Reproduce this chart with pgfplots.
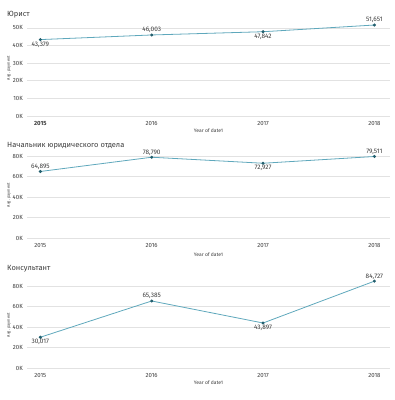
\documentclass[border=0pt]{standalone}
\usepackage{pgfplots}
\pgfplotsset{compat=1.18}
\usepackage{fontspec}
\setmainfont{Fira Sans}
\definecolor{linec}{RGB}{95,168,188}
\definecolor{markc}{RGB}{35,95,110}
\definecolor{gridc}{RGB}{226,226,226}
\definecolor{txt}{RGB}{60,60,60}
\pgfplotsset{
 panel/.style={scale only axis, width=363pt, anchor=south west,
  xmin=2014.88, xmax=2018.14, ymin=0,
  xtick={2015,2016,2017,2018},
  scaled y ticks=false,
  axis line style={draw=none}, major tick length=0pt,
  ymajorgrids, grid style={gridc, line width=0.6pt},
  tick label style={font=\fontsize{6}{7}\selectfont, text=txt},
  yticklabel style={inner sep=0pt, xshift=-4pt},
  xticklabel style={inner sep=0pt, yshift=-5pt},
  /pgf/number format/assume math mode=true,
  clip=false,
 },
 ser/.style={linec, line width=0.8pt, mark=*, mark size=1.1pt, mark options={fill=markc, draw=markc}},
 lab/.style={draw=none, mark=none,
  nodes near coords={\pgfmathprintnumber[fixed,precision=0,1000 sep={,}]{\pgfplotspointmeta}},
  point meta=y,
  every node near coord/.append style={font=\fontsize{6.5}{7}\selectfont, text=txt, anchor=#1, inner sep=1.8pt}},
}
\tikzset{
 ylab/.style={font=\fontsize{4}{5}\selectfont, text=txt, xshift=-18pt, rotate=90},
 xlab/.style={font=\fontsize{5}{6}\selectfont, text=txt},
}
\begin{document}
\begin{tikzpicture}
\useasboundingbox (0,0) rectangle (395pt,400pt);
% Panel 1
\node[anchor=base west, font=\fontsize{7.5}{8}\selectfont, text=txt, inner sep=0pt] at (7pt,383pt) {Юрист};
\begin{axis}[panel, at={(27pt,284pt)}, height=96pt, ymax=54500,
  ytick={0,10000,20000,30000,40000,50000}, yticklabels={0K,10K,20K,30K,40K,50K},
  xticklabels={\textbf{2015},2016,2017,2018}]
\addplot[ser] coordinates {(2015,43379) (2016,46003) (2017,47842) (2018,51651)};
\addplot[lab=north] coordinates {(2015,43379) (2017,47842)};
\addplot[lab=south] coordinates {(2016,46003) (2018,51651)};
\node[xlab] at (rel axis cs:0.5,0) [yshift=-15pt] {Year of date1};
\node[ylab] at (rel axis cs:0,0.5) {Avg. payment};
\end{axis}
% Panel 2
\node[anchor=base west, font=\fontsize{7.5}{8}\selectfont, text=txt, inner sep=0pt] at (7pt,252pt) {Начальник юридического отдела};
\begin{axis}[panel, at={(27pt,162pt)}, height=86pt, ymax=83900,
  ytick={0,20000,40000,60000,80000}, yticklabels={0K,20K,40K,60K,80K},
  xticklabels={2015,2016,2017,2018}]
\addplot[ser] coordinates {(2015,64895) (2016,78790) (2017,72927) (2018,79511)};
\addplot[lab=north] coordinates {(2017,72927)};
\addplot[lab=south] coordinates {(2015,64895) (2016,78790) (2018,79511)};
\node[xlab] at (rel axis cs:0.5,0) [yshift=-17pt] {Year of date1};
\node[ylab] at (rel axis cs:0,0.5) {Avg. payment};
\end{axis}
% Panel 3
\node[anchor=base west, font=\fontsize{7.5}{8}\selectfont, text=txt, inner sep=0pt] at (7pt,129pt) {Консультант};
\begin{axis}[panel, at={(27pt,32pt)}, height=86pt, ymax=83900,
  ytick={0,20000,40000,60000,80000}, yticklabels={0K,20K,40K,60K,80K},
  xticklabels={2015,2016,2017,2018}]
\addplot[ser] coordinates {(2015,30017) (2016,65385) (2017,43897) (2018,84727)};
\addplot[lab=north] coordinates {(2015,30017) (2017,43897)};
\addplot[lab=south] coordinates {(2016,65385) (2018,84727)};
\node[xlab] at (rel axis cs:0.5,0) [yshift=-15pt] {Year of date1};
\node[ylab] at (rel axis cs:0,0.5) {Avg. payment};
\end{axis}
\end{tikzpicture}
\end{document}
